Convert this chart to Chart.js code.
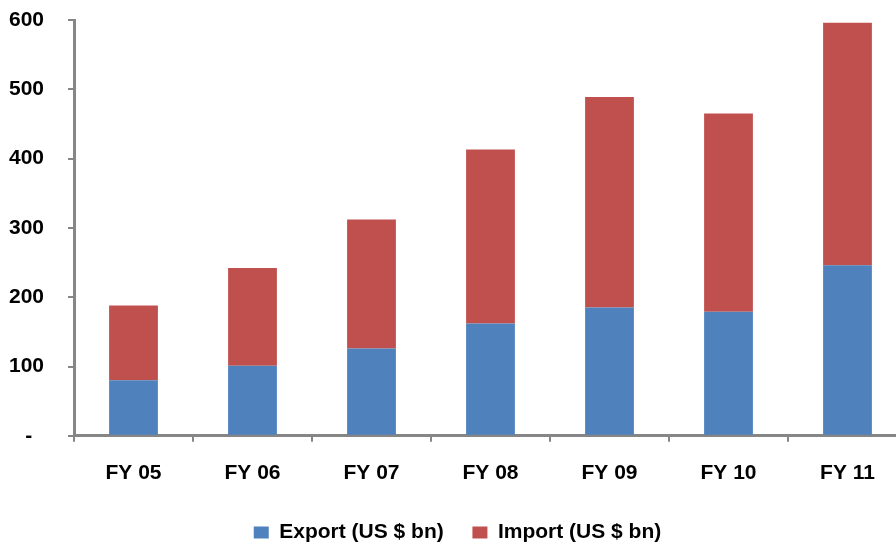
<!DOCTYPE html>
<html>
<head>
<meta charset="utf-8">
<script src="https://cdn.jsdelivr.net/npm/chart.js@4"></script>
<style>
  html, body { margin: 0; padding: 0; background: #fff; overflow: hidden; }
  #wrap { width: 896px; height: 545px; overflow: hidden; }
</style>
</head>
<body>
<div id="wrap"><canvas id="myChart" width="908" height="545"></canvas></div>
<script>
const years = ["FY 05", "FY 06", "FY 07", "FY 08", "FY 09", "FY 10", "FY 11"];
const exportValues = [80, 101, 126, 162, 185, 179, 246];
const importValues = [108, 141, 186, 251, 304, 286, 350];
const yTicks = [0, 100, 200, 300, 400, 500, 600];

const axisGrey = "#868686";
Chart.defaults.font.family = "'Liberation Sans', Arial, sans-serif";
Chart.defaults.font.weight = "bold";
Chart.defaults.font.size = 21;
Chart.defaults.color = "#000";

// the original axis runs off the right edge, so the canvas is a bit wider than the window
var ctx = document.getElementById("myChart").getContext("2d");
var myChart = new Chart(ctx, {
  type: "bar",
  data: {
    labels: years,
    datasets: [
      {
        label: "Export (US $ bn)",
        data: exportValues,
        backgroundColor: "#4F81BD",
        barPercentage: 0.41,
        categoryPercentage: 1,
      },
      {
        label: "Import (US $ bn)",
        data: importValues,
        backgroundColor: "#C0504D",
        barPercentage: 0.41,
        categoryPercentage: 1,
      },
    ],
  },
  options: {
    responsive: false,
    animation: false,
    layout: {
      padding: { left: 8, right: 1, top: 20, bottom: -8 },
    },
    scales: {
      x: {
        stacked: true,
        offset: true,
        grid: {
          offset: true,
          drawOnChartArea: false,
          drawTicks: true,
          tickLength: 6,
          color: axisGrey,
          lineWidth: 2,
        },
        border: { color: axisGrey, width: 3 },
        ticks: { padding: 19 },
      },
      y: {
        stacked: true,
        min: 0,
        max: 600,
        afterBuildTicks: (axis) => {
          axis.ticks = yTicks.map((v) => ({ value: v }));
        },
        afterFit: (axis) => {
          axis.width = 66;
          axis.paddingTop = 0;
          axis.paddingBottom = 0;
        },
        grid: {
          drawOnChartArea: false,
          drawTicks: true,
          tickLength: 6,
          color: axisGrey,
          lineWidth: 2,
        },
        border: { color: axisGrey, width: 3 },
        ticks: {
          padding: 24,
          callback: (v) => (v === 0 ? "-  " : v),
        },
      },
    },
    plugins: {
      legend: {
        position: "bottom",
        labels: {
          boxWidth: 15,
          boxHeight: 12,
          padding: 17,
          font: { size: 21, weight: "bold" },
          generateLabels: (chart) =>
            Chart.defaults.plugins.legend.labels
              .generateLabels(chart)
              .map((l, i) => ({ ...l, text: i === 0 ? l.text + "  " : l.text })),
        },
      },
      tooltip: { enabled: false },
    },
  },
});
</script>
</body>
</html>
